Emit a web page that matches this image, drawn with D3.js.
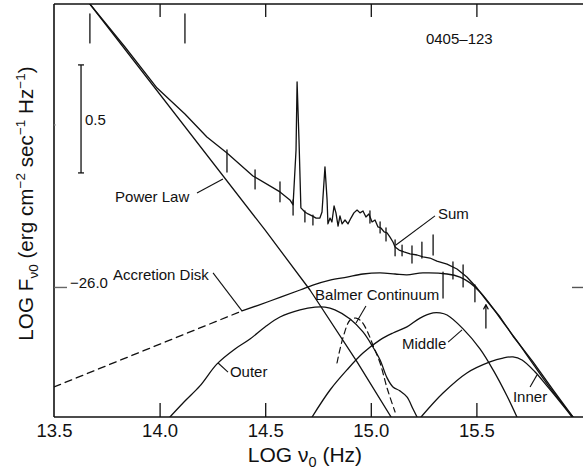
<!DOCTYPE html>
<html>
<head>
<meta charset="utf-8">
<script src="https://cdn.jsdelivr.net/npm/d3@7"></script>
<style>
  html, body { margin: 0; padding: 0; background: #fff; }
  svg { display: block; font-family: "Liberation Sans", Arial, Helvetica, sans-serif; }
</style>
</head>
<body>
<svg id="chart" width="583" height="470"></svg>
<script>
// ---- axis ticks (log frequency, log flux) ----
const xTickValues = [13.5, 14.0, 14.5, 15.0, 15.5];
const xTickLabels = ["13.5", "14.0", "14.5", "15.0", "15.5"];
const yTickValues = [-26.0];
const yTickLabels = ["\u221226.0"];
const yMinorTicks = [-25.25];

// ---- spectrum of 0405-123 : [log nu, log F_nu] ----
const powerLaw = [[13.670, -24.690], [14.499, -25.736], [14.712, -26.014], [14.935, -26.347], [15.096, -26.602]];

const sumSpectrum = [
  [13.670, -24.690], [13.836, -24.889], [13.988, -25.079], [14.120, -25.199], [14.224, -25.306],
  [14.319, -25.380], [14.442, -25.486], [14.570, -25.560], [14.617, -25.597], [14.632, -25.620],
  [14.646, -25.366], [14.651, -25.051], [14.660, -25.319], [14.669, -25.634], [14.688, -25.653],
  [14.703, -25.662], [14.722, -25.671], [14.741, -25.681], [14.759, -25.681], [14.769, -25.653],
  [14.783, -25.444], [14.793, -25.597], [14.797, -25.708], [14.807, -25.681], [14.816, -25.699],
  [14.826, -25.625], [14.835, -25.657], [14.845, -25.718], [14.854, -25.671], [14.864, -25.708],
  [14.878, -25.690], [14.892, -25.708], [14.906, -25.681], [14.920, -25.657], [14.935, -25.644],
  [14.949, -25.657], [14.963, -25.648], [14.977, -25.676], [14.991, -25.662], [15.006, -25.699],
  [15.020, -25.690], [15.034, -25.722], [15.048, -25.727], [15.063, -25.745], [15.077, -25.750],
  [15.091, -25.769], [15.105, -25.792], [15.115, -25.815], [15.134, -25.829], [15.157, -25.838],
  [15.186, -25.847], [15.219, -25.852], [15.247, -25.861], [15.280, -25.866], [15.313, -25.880],
  [15.361, -25.894], [15.408, -25.917], [15.455, -25.954], [15.503, -26.005], [15.550, -26.065],
  [15.612, -26.139], [15.673, -26.227], [15.768, -26.347], [15.863, -26.477], [15.957, -26.602]
];

// accretion disk total: extrapolated part (dashed) and fitted part (solid)
const accretionExtrap = [[13.500, -26.463], [14.390, -26.111]];
const accretionDisk = [
  [14.390, -26.111], [14.523, -26.065], [14.665, -26.014], [14.726, -25.991], [14.807, -25.968],
  [14.887, -25.954], [14.963, -25.940], [15.044, -25.935], [15.115, -25.940], [15.171, -25.944],
  [15.247, -25.935], [15.361, -25.940], [15.422, -25.954], [15.470, -25.981], [15.517, -26.023],
  [15.564, -26.079], [15.612, -26.144], [15.692, -26.250], [15.768, -26.356], [15.863, -26.486],
  [15.957, -26.602]
];

const outerDisk = [
  [14.049, -26.602], [14.120, -26.528], [14.191, -26.458], [14.272, -26.356], [14.357, -26.287],
  [14.428, -26.241], [14.499, -26.185], [14.570, -26.139], [14.665, -26.106], [14.736, -26.093],
  [14.783, -26.093], [14.830, -26.106], [14.902, -26.148], [14.963, -26.208], [15.010, -26.278],
  [15.044, -26.338], [15.077, -26.421], [15.105, -26.463], [15.138, -26.481], [15.171, -26.509],
  [15.200, -26.565], [15.219, -26.602]
];

const middleDisk = [
  [14.722, -26.602], [14.807, -26.477], [14.887, -26.384], [14.963, -26.306], [15.044, -26.245],
  [15.105, -26.213], [15.171, -26.185], [15.233, -26.144], [15.295, -26.120], [15.328, -26.120],
  [15.361, -26.130], [15.437, -26.194], [15.517, -26.287], [15.579, -26.384], [15.645, -26.505],
  [15.692, -26.602]
];

const innerDisk = [
  [15.238, -26.602], [15.342, -26.491], [15.455, -26.398], [15.564, -26.347], [15.626, -26.329],
  [15.673, -26.324], [15.716, -26.338], [15.778, -26.394], [15.834, -26.458], [15.896, -26.532],
  [15.953, -26.602]
];

const balmerContinuum = [
  [14.840, -26.352], [14.868, -26.236], [14.902, -26.153], [14.930, -26.144], [14.958, -26.162],
  [14.987, -26.213], [15.010, -26.269], [15.044, -26.352], [15.077, -26.468], [15.115, -26.579]
];

// photometric points: [log nu, low, high]
const errorBars = [
  [13.670, -24.870, -24.736], [14.120, -24.870, -24.736],
  [14.319, -25.468, -25.366], [14.452, -25.546, -25.458], [14.570, -25.606, -25.514],
  [14.632, -25.667, -25.597], [14.688, -25.699, -25.648], [14.726, -25.713, -25.667],
  [14.996, -25.704, -25.648], [15.044, -25.750, -25.699], [15.072, -25.787, -25.727],
  [15.115, -25.856, -25.782], [15.148, -25.856, -25.806], [15.195, -25.889, -25.810],
  [15.242, -25.866, -25.792], [15.295, -25.852, -25.759], [15.342, -26.051, -25.931],
  [15.389, -25.963, -25.884], [15.437, -26.000, -25.898], [15.493, -26.069, -25.991]
];
// lower limit: [log nu, base, tip]
const lowerLimit = [15.545, -26.190, -26.083];

// scale bar of 0.5 dex
const scaleBar = { x: 13.628, from: -25.472, to: -24.972, label: "0.5" };

// curve labels: text anchor and leader line, in data coordinates
const annotations = [
  { text: "Power Law", at: [13.789, -25.606], leader: [[14.177, -25.565], [14.300, -25.500]] },
  { text: "Sum", at: [15.318, -25.685], leader: [[15.304, -25.671], [15.119, -25.806]] },
  { text: "Accretion Disk", at: [13.779, -25.968], leader: [[14.253, -25.935], [14.390, -26.111]] },
  { text: "Balmer Continuum", at: [14.736, -26.060], leader: [[14.977, -26.088], [14.930, -26.167]] },
  { text: "Middle", at: [15.148, -26.287], leader: [[15.366, -26.255], [15.432, -26.199]] },
  { text: "Outer", at: [14.333, -26.417], leader: [[14.324, -26.394], [14.277, -26.352]] },
  { text: "Inner", at: [15.673, -26.532], leader: [[15.754, -26.463], [15.787, -26.407]] },
  { text: "0405\u2013123", at: [15.261, -24.875], leader: null }
];

// ---- layout ----
const svg = d3.select("#chart");
const plotLeft = 54, plotRight = 582, plotTop = 4, plotBottom = 417;
const x = d3.scaleLinear().domain([13.5, 16.0]).range([plotLeft, plotRight]);
const y = d3.scaleLinear().domain([-26.602, -24.690]).range([plotBottom, plotTop]);

svg.append("defs").append("clipPath").attr("id", "plot")
  .append("rect").attr("x", plotLeft).attr("y", plotTop)
  .attr("width", 583 - plotLeft).attr("height", plotBottom - plotTop);

const ink = "#111";

// frame (no right border visible)
const frame = svg.append("g").attr("stroke", ink).attr("stroke-width", 1.6).attr("fill", "none");
frame.append("line").attr("x1", plotLeft).attr("x2", 583).attr("y1", plotBottom).attr("y2", plotBottom);
frame.append("line").attr("x1", plotLeft).attr("x2", 583).attr("y1", plotTop).attr("y2", plotTop);
frame.append("line").attr("x1", plotLeft).attr("x2", plotLeft).attr("y1", plotTop).attr("y2", plotBottom);

// bottom axis: inward ticks + labels
const xAxis = d3.axisBottom(x).tickValues(xTickValues).tickSize(-14).tickPadding(20)
  .tickFormat((d, i) => xTickLabels[i]);
const gx = svg.append("g").attr("transform", `translate(0,${plotBottom})`).call(xAxis);
gx.select(".domain").remove();
gx.selectAll(".tick line").attr("stroke", ink).attr("stroke-width", 1.3)
  .attr("display", d => d === 13.5 ? "none" : null);
gx.selectAll(".tick text").attr("fill", ink).attr("font-size", 18.5)
  .attr("font-family", "Liberation Sans, Arial, sans-serif").attr("dy", null).attr("y", 20);

// top axis: inward ticks, no labels
const xTop = d3.axisTop(x).tickValues(xTickValues.filter(v => v > 13.5)).tickSize(-13).tickFormat("");
const gxt = svg.append("g").attr("transform", `translate(0,${plotTop})`).call(xTop);
gxt.select(".domain").remove();
gxt.selectAll(".tick line").attr("stroke", ink).attr("stroke-width", 1.3);

// left axis tick at -26.0, label placed inside the frame
const yAxis = d3.axisLeft(y).tickValues(yTickValues).tickSize(-13).tickFormat("");
const gy = svg.append("g").attr("transform", `translate(${plotLeft},0)`).call(yAxis);
gy.select(".domain").remove();
gy.selectAll(".tick line").attr("stroke", "#666").attr("stroke-width", 1.4);
yTickValues.forEach((v, i) => {
  svg.append("text").attr("x", plotLeft + 16).attr("y", y(v) + 1)
    .attr("font-size", 15).attr("fill", ink).text(yTickLabels[i]);
});
yMinorTicks.forEach(v => {
  svg.append("line").attr("x1", plotLeft).attr("x2", plotLeft + 2).attr("y1", y(v)).attr("y2", y(v))
    .attr("stroke", "#999").attr("stroke-width", 1);
});
// right axis tick at -26.0
const yRight = d3.axisRight(y).tickValues(yTickValues).tickSize(-11).tickFormat("");
const gyr = svg.append("g").attr("transform", `translate(583,0)`).call(yRight);
gyr.select(".domain").remove();
gyr.selectAll(".tick line").attr("stroke", "#555").attr("stroke-width", 1.4);

// axis titles
const xTitle = svg.append("text").attr("x", 305).attr("y", 462).attr("text-anchor", "middle")
  .attr("font-size", 21).attr("fill", ink);
xTitle.append("tspan").text("LOG \u03bd");
xTitle.append("tspan").attr("font-size", 14.5).attr("dy", 5).text("0");
xTitle.append("tspan").attr("dy", -5).text(" (Hz)");

const yTitle = svg.append("text").attr("transform", "translate(33,203.5) rotate(-90)")
  .attr("text-anchor", "middle").attr("font-size", 20.7).attr("fill", ink);
yTitle.append("tspan").text("LOG F");
yTitle.append("tspan").attr("font-size", 13.5).attr("dy", 5).text("\u03bd0");
yTitle.append("tspan").attr("dy", -5).text(" (erg cm");
yTitle.append("tspan").attr("font-size", 13.5).attr("dy", -8).text("\u22122");
yTitle.append("tspan").attr("dy", 8).text(" sec");
yTitle.append("tspan").attr("font-size", 13.5).attr("dy", -8).text("\u22121");
yTitle.append("tspan").attr("dy", 8).text(" Hz");
yTitle.append("tspan").attr("font-size", 13.5).attr("dy", -8).text("\u22121");
yTitle.append("tspan").attr("dy", 8).text(")");

// ---- curves ----
const plot = svg.append("g").attr("clip-path", "url(#plot)").attr("fill", "none")
  .attr("stroke", ink).attr("stroke-linejoin", "round").attr("stroke-linecap", "round");
const smooth = d3.line().x(d => x(d[0])).y(d => y(d[1])).curve(d3.curveCatmullRom.alpha(0.5));
const straight = d3.line().x(d => x(d[0])).y(d => y(d[1]));

plot.append("path").attr("d", straight(powerLaw)).attr("stroke-width", 1.3);
plot.append("path").attr("d", straight(sumSpectrum)).attr("stroke-width", 1.3);
plot.append("path").attr("d", straight(accretionExtrap)).attr("stroke-width", 1.3).attr("stroke-dasharray", "7,5");
plot.append("path").attr("d", smooth(accretionDisk)).attr("stroke-width", 1.3);
plot.append("path").attr("d", smooth(outerDisk)).attr("stroke-width", 1.3);
plot.append("path").attr("d", smooth(middleDisk)).attr("stroke-width", 1.3);
plot.append("path").attr("d", smooth(innerDisk)).attr("stroke-width", 1.3);
plot.append("path").attr("d", smooth(balmerContinuum)).attr("stroke-width", 1.2).attr("stroke-dasharray", "6,4");

// photometric error bars
plot.selectAll("line.err").data(errorBars).enter().append("line").attr("class", "err")
  .attr("x1", d => x(d[0])).attr("x2", d => x(d[0]))
  .attr("y1", d => y(d[1])).attr("y2", d => y(d[2])).attr("stroke-width", 1.3);

// lower limit arrow
const ax = x(lowerLimit[0]), ay0 = y(lowerLimit[1]), ay1 = y(lowerLimit[2]);
plot.append("line").attr("x1", ax).attr("x2", ax).attr("y1", ay0).attr("y2", ay1).attr("stroke-width", 1.3);
plot.append("path").attr("d", `M${ax - 2.2},${ay1 + 4} L${ax},${ay1} L${ax + 2.2},${ay1 + 4}`)
  .attr("stroke-width", 1.2);

// 0.5 dex scale bar
const sb = svg.append("g").attr("stroke", ink).attr("stroke-width", 1.3);
const sbx = x(scaleBar.x);
sb.append("line").attr("x1", sbx).attr("x2", sbx).attr("y1", y(scaleBar.from)).attr("y2", y(scaleBar.to));
[scaleBar.from, scaleBar.to].forEach(v => {
  sb.append("line").attr("x1", sbx - 3).attr("x2", sbx + 3).attr("y1", y(v)).attr("y2", y(v));
});
svg.append("text").attr("x", sbx + 4).attr("y", (y(scaleBar.from) + y(scaleBar.to)) / 2 + 6)
  .attr("font-size", 15).attr("fill", ink).text(scaleBar.label);

// curve labels and leaders
annotations.forEach(a => {
  svg.append("text").attr("x", x(a.at[0])).attr("y", y(a.at[1]))
    .attr("font-size", 15).attr("fill", ink).text(a.text);
  if (a.leader) {
    svg.append("line")
      .attr("x1", x(a.leader[0][0])).attr("y1", y(a.leader[0][1]))
      .attr("x2", x(a.leader[1][0])).attr("y2", y(a.leader[1][1]))
      .attr("stroke", ink).attr("stroke-width", 1.1);
  }
});
</script>
</body>
</html>
